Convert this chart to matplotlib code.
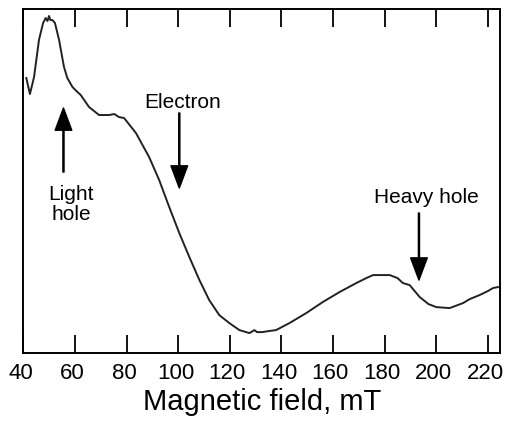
import numpy as np
import matplotlib.pyplot as plt
import matplotlib.transforms as mtransforms

plt.rcParams['font.family'] = ['Liberation Sans', 'DejaVu Sans']

# magnetic field (mT) and signal (arb. units)
field = [41.1, 42.5, 44.1, 46.0, 47.6, 48.6, 49.3, 49.9, 50.4, 51.2, 52.2, 53.8,
         55.7, 57.0, 59.0, 60.5, 62.2, 65.4, 69.3, 73.2, 75.2, 77.0, 79.0, 83.6,
         88.7, 92.6, 96.5, 100.4, 104.3, 108.2, 112.0, 115.9, 119.8, 123.7,
         127.6, 129.5, 130.5, 132.6, 135.0, 137.9, 143.1, 149.6, 156.0, 162.5,
         169.0, 172.9, 175.5, 179.0, 182.0, 185.0, 187.1, 189.7, 193.6, 197.0,
         200.0, 205.2, 210.4, 213.0, 216.8, 220.0, 222.0, 223.9]
signal = [275, 259, 276, 313, 330, 335, 332, 337, 333, 333, 330, 313,
          286, 275, 266, 262, 258, 246, 238, 238, 239, 236, 235, 220,
          196, 173, 146, 120, 96, 73, 53, 38, 30, 23,
          20, 23, 21, 21, 22, 23, 30, 40, 51, 61,
          70, 75, 78, 78, 78, 75, 70, 68, 56, 49,
          46, 45, 50, 54, 58, 62, 65, 66]

ticks = [40, 60, 80, 100, 120, 140, 160, 180, 200, 220]

fig = plt.figure(figsize=(5.05, 4.28), dpi=100)
ax = fig.add_axes([0.0465, 0.175, 0.9435, 0.804])
ax.plot(field, signal, color='#222222', lw=1.4)

ax.set_xlim(40, 224.7)
ax.set_ylim(0, 344)
ax.set_yticks([])
ax.set_xticks(ticks)
ax.tick_params(axis='x', direction='in', length=13, width=1.3, top=True,
               labelsize=16, pad=7)
# labels sit a touch left of their ticks in the original
shift = mtransforms.ScaledTranslation(-2 / 72, 0, fig.dpi_scale_trans)
for lab in ax.get_xticklabels():
    lab.set_transform(lab.get_transform() + shift)
for s in ax.spines.values():
    s.set_linewidth(1.4)
ax.set_xlabel('Magnetic field, mT', fontsize=21, labelpad=3)

arrow = dict(facecolor='black', edgecolor='black', width=0.8,
             headwidth=12, headlength=16, shrink=0)
ax.annotate('', xy=(55.5, 245), xytext=(55.5, 181), arrowprops=arrow)
ax.text(58.5, 168, 'Light\nhole', ha='center', va='top', fontsize=15,
        linespacing=1.05)
ax.annotate('', xy=(100.4, 165), xytext=(100.4, 240), arrowprops=arrow)
ax.text(101.6, 245, 'Electron', ha='center', va='baseline', fontsize=15)
ax.annotate('', xy=(193.3, 73), xytext=(193.3, 140), arrowprops=arrow)
ax.text(196.2, 150, 'Heavy hole', ha='center', va='baseline', fontsize=15)

fig.savefig('out.png', dpi=100)
